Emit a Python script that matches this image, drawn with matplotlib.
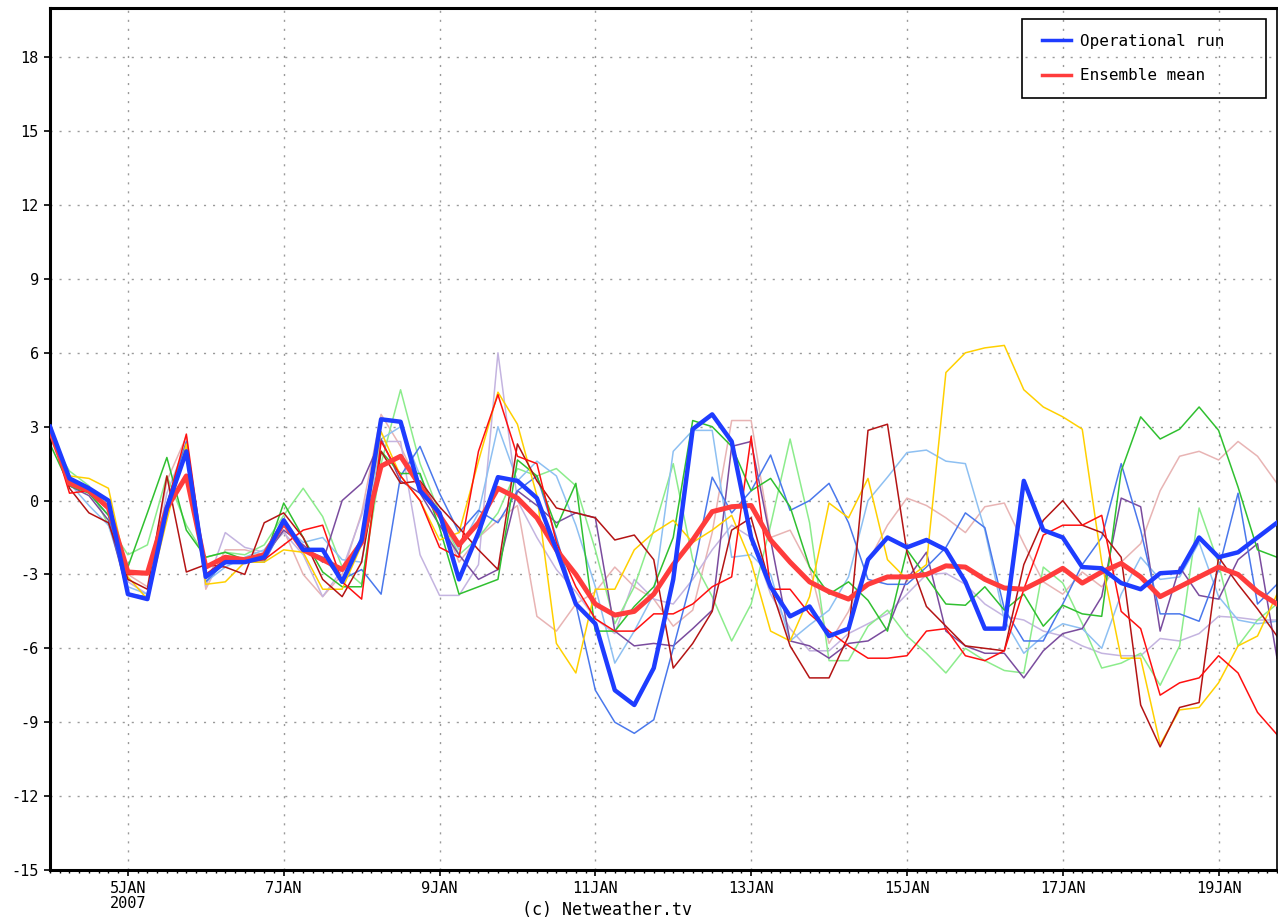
import numpy as np
import matplotlib
matplotlib.use('Agg')
import matplotlib.pyplot as plt
from matplotlib.patches import Rectangle

# 6-hourly steps from 4 JAN 2007 00Z, x in days
steps = np.arange(64) * 0.25

operational = [3.0, 0.9, 0.5, 0.0, -3.8, -4.0, -0.3, 2.0, -3.1, -2.5,
               -2.5, -2.3, -0.8, -2.0, -2.0, -3.3, -1.6, 3.3, 3.2, 0.4,
               -0.5, -3.2, -1.3, 0.95, 0.8, 0.1, -2.0, -4.2, -5.0, -7.7,
               -8.3, -6.8, -3.2, 2.9, 3.5, 2.4, -1.5, -3.5, -4.7, -4.3,
               -5.5, -5.2, -2.4, -1.5, -1.9, -1.6, -2.0, -3.3, -5.2, -5.2,
               0.8, -1.2, -1.5, -2.7, -2.75, -3.35, -3.6, -2.95, -2.9, -1.5,
               -2.3, -2.1, -1.5, -0.9]

ens_mean = [2.85, 0.7, 0.4, -0.3, -2.9, -2.95, -0.3, 1.0, -2.7, -2.3,
            -2.4, -2.2, -0.9, -2.0, -2.4, -2.8, -1.7, 1.4, 1.8, 0.6,
            -0.6, -1.8, -0.9, 0.5, 0.1, -0.7, -2.0, -3.0, -4.2, -4.65,
            -4.5, -3.8, -2.6, -1.6, -0.45, -0.25, -0.2, -1.6, -2.5, -3.3,
            -3.7, -4.0, -3.4, -3.1, -3.1, -3.0, -2.65, -2.7, -3.2, -3.55,
            -3.6, -3.2, -2.75, -3.35, -2.9, -2.55, -3.1, -3.9, -3.5, -3.1,
            -2.7, -3.0, -3.7, -4.2]

gold = [2.8, 1.0, 0.9, 0.5, -3.1, -4.0, -0.8, 2.3, -3.4, -3.3,
        -2.5, -2.5, -2.0, -2.1, -3.6, -3.6, -1.8, 2.8, 1.0, 0.0,
        -1.6, -1.3, 1.6, 4.4, 3.1, 0.2, -5.8, -7.0, -3.6, -3.6,
        -2.0, -1.3, -0.8, -1.7, -1.2, -0.6, -2.5, -5.3, -5.7, -3.9,
        -0.1, -0.7, 0.9, -2.4, -3.2, -2.6, 5.2, 6.0, 6.2, 6.3,
        4.5, 3.8, 3.4, 2.9, -2.5, -6.4, -6.4, -9.9, -8.5, -8.4,
        -7.4, -5.9, -5.5, -3.8]

red = [2.9, 0.3, 0.4, -0.3, -3.0, -3.0, -0.2, 2.7, -3.0, -2.4,
       -2.5, -2.4, -1.8, -1.2, -1.0, -3.3, -4.0, 2.4, 1.0, 0.0,
       -1.9, -2.3, 2.0, 4.3, 1.8, 1.5, -1.7, -3.5, -4.8, -5.3,
       -5.3, -4.6, -4.6, -4.2, -3.5, -3.1, 2.6, -3.6, -3.6, -4.6,
       -5.3, -5.9, -6.4, -6.4, -6.3, -5.3, -5.2, -6.3, -6.5, -6.1,
       -3.6, -1.4, -1.0, -1.0, -0.6, -4.5, -5.2, -7.9, -7.4, -7.2,
       -6.3, -7.0, -8.6, -9.5]

darkred = [2.9, 0.5, -0.5, -0.9, -3.2, -3.6, 1.0, -2.9, -2.6, -2.7,
           -3.0, -0.9, -0.5, -1.5, -3.2, -3.9, -2.5, 2.0, 0.7, 0.8,
           -0.25, -1.1, -2.0, -2.8, 2.3, 0.8, -0.3, -0.5, -0.7, -1.6,
           -1.4, -2.4, -6.8, -5.8, -4.5, -1.2, -0.7, -3.5, -5.9, -7.2,
           -7.2, -5.5, 2.85, 3.1, -2.1, -4.3, -5.1, -5.9, -6.0, -6.1,
           -2.6, -0.8, 0.0, -1.0, -1.3, -2.3, -8.3, -10.0, -8.4, -8.2,
           -2.3, -3.4, -4.4, -5.5]

green = [2.3, 0.6, 0.3, -0.6, -2.7, -0.5, 1.75, -1.2, -2.3, -2.1,
         -2.4, -2.4, -0.1, -1.5, -2.9, -3.5, -3.5, 2.0, 1.1, 1.1,
         -1.1, -3.8, -3.5, -3.2, 1.65, 1.0, -1.1, 0.7, -5.3, -5.3,
         -4.3, -3.5, -1.5, 3.25, 3.0, 2.2, 0.4, 0.9, -0.25, -2.7,
         -3.8, -3.3, -4.05, -5.3, -2.0, -3.1, -4.2, -4.25, -3.5, -4.45,
         -3.8, -5.1, -4.25, -4.6, -4.7, 1.2, 3.4, 2.5, 2.9, 3.8,
         2.85, 0.55, -2.0, -2.3]

lightgreen = [2.5, 1.2, 0.6, -1.0, -2.2, -1.8, 1.0, -1.0, -2.3, -2.1,
              -2.2, -1.8, -0.6, 0.5, -0.65, -2.7, -3.4, 1.5, 4.5, 1.5,
              -0.5, -2.2, -1.5, -0.5, 1.3, 1.0, 1.3, 0.6, -2.0, -5.0,
              -3.5, -1.2, 1.5, -2.4, -3.9, -5.7, -4.2, -1.0, 2.5, -0.9,
              -6.5, -6.5, -5.1, -4.45, -5.5, -6.2, -7.0, -6.0, -6.5, -6.9,
              -7.0, -2.7, -3.35, -5.0, -6.8, -6.6, -6.2, -7.5, -5.9, -0.3,
              -2.55, -5.9, -4.85, -4.2]

lightblue = [2.9, 0.7, -0.2, -1.0, -3.5, -3.8, -0.3, 2.1, -3.3, -2.7,
             -2.3, -2.0, -1.0, -1.7, -1.5, -2.4, -2.5, 2.5, 3.0, 1.0,
             -0.6, -2.0, -0.5, 3.0, 0.8, 1.6, 1.0, -1.0, -3.5, -6.6,
             -5.3, -3.8, 2.0, 2.85, 2.85, -2.3, -2.2, -3.0, -5.7, -5.05,
             -4.45, -3.1, 0.0, 0.95, 1.95, 2.05, 1.6, 1.5, -1.2, -4.85,
             -6.2, -5.5, -5.0, -5.2, -6.0, -3.8, -2.3, -3.2, -3.1, -1.7,
             -3.9, -4.85, -5.0, -4.9]

cornflower = [3.0, 0.8, 0.3, -0.6, -3.8, -3.9, -0.1, 2.4, -3.3, -2.5,
              -2.5, -2.5, -1.0, -2.0, -2.3, -3.2, -2.8, -3.8, 1.0, 2.2,
              0.3, -1.3, -0.4, -0.9, 0.4, 1.0, -1.5, -4.2, -7.7, -9.0,
              -9.45, -8.9, -6.0, -3.0, 0.95, -0.5, 0.4, 1.85, -0.4, 0.0,
              0.7, -0.9, -3.2, -3.4, -3.4, -2.7, -1.9, -0.5, -1.1, -4.4,
              -5.7, -5.7, -4.2, -2.6, -1.5, 1.5, -1.2, -4.6, -4.6, -4.9,
              -2.8, 0.3, -4.2, -3.4]

purple = [3.1, 0.6, 0.2, -0.8, -3.8, -4.0, -0.5, 2.0, -3.0, -2.4,
          -2.5, -2.3, -1.2, -1.8, -2.5, 0.0, 0.7, 2.5, 0.8, 0.3,
          -1.0, -2.2, -3.2, -2.8, 0.4, -0.2, -0.9, -0.5, -0.7, -5.3,
          -5.9, -5.8, -5.9, -5.2, -4.45, 2.2, 2.4, -1.6, -5.7, -5.9,
          -6.4, -5.8, -5.7, -5.2, -3.2, -2.1, -5.3, -5.9, -6.2, -6.2,
          -7.2, -6.1, -5.4, -5.2, -3.9, 0.1, -0.25, -5.3, -2.7, -3.85,
          -4.0, -2.4, -1.75, -6.4]

lavender = [3.0, 0.7, 0.4, -0.3, -3.3, -3.8, 0.3, 2.3, -3.5, -1.3,
            -1.9, -2.1, -1.3, -2.2, -3.9, -2.8, -0.6, 2.4, 2.4, -2.2,
            -3.85, -3.85, -2.6, 6.0, 0.0, -1.5, -2.8, -3.7, -4.8, -5.4,
            -3.2, -4.0, -4.2, -3.2, -2.0, -1.0, -1.5, -3.8, -5.2, -6.1,
            -6.1, -5.4, -5.0, -4.6, -3.8, -3.0, -2.95, -3.4, -4.2, -4.7,
            -4.85, -5.3, -5.5, -5.9, -6.2, -6.3, -6.3, -5.6, -5.7, -5.4,
            -4.7, -4.75, -4.85, -4.85]

pink = [2.8, 0.8, 0.5, -0.2, -3.0, -3.5, 0.8, 2.6, -3.6, -2.0,
        -2.0, -2.2, -1.2, -3.0, -3.9, -3.0, -0.5, 3.5, 2.2, 0.5,
        -0.5, -2.5, -1.5, -0.8, -0.2, -4.7, -5.3, -4.2, -3.7, -2.7,
        -3.5, -4.0, -5.1, -4.45, -1.3, 3.25, 3.25, -1.5, -1.2, -2.7,
        -5.8, -4.5, -2.5, -1.0, 0.1, -0.2, -0.7, -1.3, -0.25, -0.1,
        -1.75, -3.3, -3.8, -2.9, -3.5, -2.5, -1.75, 0.4, 1.8, 2.0,
        1.65, 2.4, 1.8, 0.7]

members = [
    (pink, '#E8B4B4'),
    (lavender, '#C4B4E0'),
    (lightgreen, '#8CEC8C'),
    (lightblue, '#8EC0F2'),
    (purple, '#7A4C9E'),
    (cornflower, '#4A78EC'),
    (green, '#30C030'),
    (gold, '#FFD000'),
    (darkred, '#B41414'),
    (red, '#FF1010'),
]

day_ticks = np.arange(1, 16, 2)
day_labels = ['5JAN\n2007', '7JAN', '9JAN', '11JAN', '13JAN', '15JAN', '17JAN', '19JAN']
y_ticks = np.arange(-15, 19, 3)

# GrADS-like wide lettering
plt.rcParams['font.family'] = 'DejaVu Sans Mono'

W, H = 1278, 921
fig = plt.figure(figsize=(W / 100, H / 100), dpi=100)
ax = fig.add_axes([50 / W, 51 / H, 1227 / W, 862 / H])

# ensemble members
for values, color in members:
    ax.plot(steps, values, color=color, linewidth=1.1, zorder=2)

ax.plot(steps, ens_mean, color='#FF3C3C', linewidth=3.6, label='Ensemble mean',
        zorder=3, solid_joinstyle='round')
ax.plot(steps, operational, color='#1E3CFF', linewidth=3.2, label='Operational run',
        zorder=4, solid_joinstyle='round')

ax.set_xlim(0, 15.75)
ax.set_ylim(-15, 20)
ax.set_xticks(day_ticks)
ax.set_xticklabels(day_labels, fontsize=11, linespacing=0.95)
ax.set_xticks(np.arange(0, 15.8, 0.125), minor=True)
ax.set_yticks(y_ticks)
ax.set_yticklabels([str(v) for v in y_ticks], fontsize=11)
ax.tick_params(axis='both', which='major', direction='out', length=4, width=1.2, pad=4)
ax.tick_params(axis='x', which='minor', direction='out', length=2.5, width=1.0)

# dotted grid
ax.grid(True, which='major', color='#9A9A9A', linestyle=(0, (1.5, 5)), linewidth=1.0)
ax.set_axisbelow(True)

for side in ['left', 'bottom', 'top']:
    ax.spines[side].set_linewidth(2.2)
ax.spines['right'].set_linewidth(1.2)

# legend: entries without frame, box drawn separately to get the GrADS proportions
handles, labels = ax.get_legend_handles_labels()
leg = ax.legend(handles[::-1], labels[::-1], loc='upper left',
                bbox_to_anchor=(1042 / W, 1 - 34 / H), bbox_transform=fig.transFigure,
                fontsize=11.5, frameon=False, handlelength=1.8, handletextpad=0.6,
                labelspacing=1.2, borderpad=0, borderaxespad=0)
for line in leg.get_lines():
    line.set_linewidth(2.5)
fig.patches.append(Rectangle((1022 / W, 1 - 98 / H), 244 / W, 79 / H,
                             transform=fig.transFigure, fill=False,
                             edgecolor='black', linewidth=1.2, zorder=5))

fig.text(607 / W, 1 - 910 / H, '(c) Netweather.tv', fontsize=12, ha='center', va='center')

fig.savefig('out.png', dpi=100)
